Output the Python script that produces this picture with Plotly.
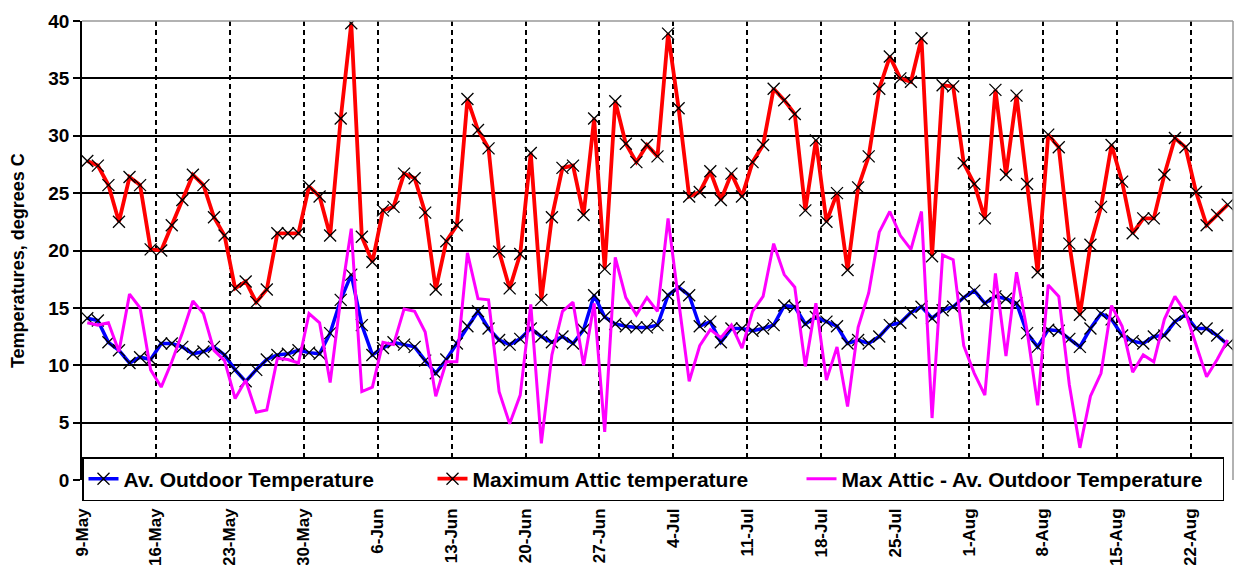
import pandas as pd
import plotly.graph_objects as go

# ---- data (daily values, 9-May .. 25-Aug) ----
start_date = "2006-05-09 12:00"
n_days = 109

max_attic = [27.8, 27.4, 25.7, 22.5, 26.4, 25.7, 20.1, 20.0, 22.2, 24.4,
             26.6, 25.7, 22.9, 21.3, 16.7, 17.3, 15.5, 16.6, 21.5, 21.5,
             21.5, 25.6, 24.7, 21.3, 31.5, 39.8, 21.2, 19.0, 23.5, 23.8,
             26.7, 26.3, 23.3, 16.6, 20.8, 22.2, 33.2, 30.5, 28.9, 19.9,
             16.7, 19.7, 28.5, 15.7, 22.9, 27.2, 27.4, 23.1, 31.5, 18.4,
             33.0, 29.3, 27.7, 29.2, 28.2, 38.9, 32.4, 24.7, 25.1, 26.9,
             24.4, 26.7, 24.7, 27.7, 29.2, 34.1, 33.1, 31.9, 23.5, 29.6,
             22.5, 25.0, 18.3, 25.5, 28.2, 34.1, 36.9, 35.0, 34.7, 38.5,
             19.5, 34.4, 34.3, 27.6, 25.8, 22.8, 34.0, 26.6, 33.5, 25.8,
             18.1, 30.1, 29.0, 20.6, 14.4, 20.5, 23.8, 29.2, 26.0, 21.5,
             22.8, 22.8, 26.6, 29.8, 29.0, 25.1, 22.2, 23.1, 24.0]

av_outdoor = [14.1, 13.9, 12.0, 11.3, 10.2, 10.7, 10.5, 11.9, 11.9, 11.6,
              11.0, 11.2, 11.6, 10.9, 9.6, 8.6, 9.6, 10.5, 10.9, 11.0,
              11.3, 11.1, 11.0, 12.8, 15.7, 17.9, 13.5, 10.9, 11.5, 12.0,
              11.8, 11.6, 10.4, 9.3, 10.5, 11.9, 13.4, 14.7, 13.2, 12.2,
              11.8, 12.3, 13.2, 12.5, 12.0, 12.5, 11.9, 13.1, 16.1, 14.2,
              13.6, 13.4, 13.3, 13.3, 13.5, 16.1, 16.8, 16.1, 13.4, 13.8,
              12.0, 13.2, 13.2, 13.0, 13.2, 13.5, 15.2, 15.1, 13.6, 14.2,
              13.8, 13.4, 11.9, 12.2, 11.9, 12.5, 13.5, 13.7, 14.6, 15.1,
              14.1, 14.8, 15.1, 15.9, 16.5, 15.4, 16.0, 15.8, 15.4, 12.8,
              11.6, 13.1, 13.0, 12.3, 11.6, 13.2, 14.5, 14.0, 12.6, 12.1,
              11.9, 12.5, 12.6, 13.8, 14.4, 13.2, 13.2, 12.6, 11.8]

attic_minus_outdoor = [13.7, 13.5, 13.7, 11.2, 16.2, 15.0, 9.6, 8.1, 10.3, 12.8,
                       15.6, 14.5, 11.3, 10.4, 7.1, 8.7, 5.9, 6.1, 10.6, 10.5,
                       10.2, 14.5, 13.7, 8.5, 15.8, 21.9, 7.7, 8.1, 12.0, 11.8,
                       14.9, 14.7, 12.9, 7.3, 10.3, 10.3, 19.8, 15.8, 15.7, 7.7,
                       4.9, 7.4, 15.3, 3.2, 10.9, 14.7, 15.5, 10.0, 15.4, 4.2,
                       19.4, 15.9, 14.4, 15.9, 14.7, 22.8, 15.6, 8.6, 11.7, 13.1,
                       12.4, 13.5, 11.5, 14.7, 16.0, 20.6, 17.9, 16.8, 9.9, 15.4,
                       8.7, 11.6, 6.4, 13.3, 16.3, 21.6, 23.4, 21.3, 20.1, 23.4,
                       5.4, 19.6, 19.2, 11.7, 9.3, 7.4, 18.0, 10.8, 18.1, 13.0,
                       6.5, 17.0, 16.0, 8.3, 2.8, 7.3, 9.3, 15.2, 13.4, 9.4,
                       10.9, 10.3, 14.0, 16.0, 14.6, 11.9, 9.0, 10.5, 12.2]

series_names = ["Av. Outdoor Temperature", "Maximum Attic temperature",
                "Max Attic - Av. Outdoor Temperature"]

dates = pd.date_range(start_date, periods=n_days, freq="D")

FONT = "Arial, 'Liberation Sans', sans-serif"

fig = go.Figure()
fig.add_trace(go.Scatter(
    x=dates, y=av_outdoor, name=series_names[0], mode="lines+markers",
    line=dict(color="#0000FF", width=3.5),
    marker=dict(symbol="x-thin", size=12, color="black",
                line=dict(color="black", width=1.3)),
    legendwidth=304,
))
fig.add_trace(go.Scatter(
    x=dates, y=max_attic, name=series_names[1], mode="lines+markers",
    line=dict(color="#FF0000", width=3.8),
    marker=dict(symbol="x-thin", size=12, color="black",
                line=dict(color="black", width=1.3)),
    legendwidth=324,
))
fig.add_trace(go.Scatter(
    x=dates, y=attic_minus_outdoor, name=series_names[2], mode="lines",
    line=dict(color="#FF00FF", width=3),
    legendwidth=376,
))

# the page body adds an 8px offset, so the figure is 8px smaller on each axis
fig.update_layout(
    width=1234, height=557,
    margin=dict(l=74, r=9, t=13, b=85, autoexpand=False),
    paper_bgcolor="white", plot_bgcolor="white",
    font=dict(family=FONT, color="black"),
    showlegend=True,
    legend=dict(
        orientation="h", x=0, xanchor="left", y=0.05, yanchor="top",
        bgcolor="white", bordercolor="black", borderwidth=1.5,
        font=dict(family=FONT, size=21, color="black", weight="bold"),
        itemclick=False, itemdoubleclick=False,
    ),
    xaxis=dict(
        type="date", automargin=False,
        range=["2006-05-09 00:00", "2006-08-26 00:00"],
        tick0="2006-05-09", dtick=7 * 86400000,
        tickformat="%-d-%b", tickangle=-90,
        tickfont=dict(family=FONT, size=17, color="black", weight="bold"),
        ticks="", ticklabelstandoff=24,
        showgrid=True, gridcolor="black", gridwidth=1.5, griddash="5px,4px",
        showline=False, zeroline=False,
    ),
    yaxis=dict(
        range=[0, 40], dtick=5, tick0=0, automargin=False,
        tickfont=dict(family=FONT, size=19, color="black", weight="bold"),
        ticks="outside", ticklen=7, tickwidth=1.5, tickcolor="black",
        showgrid=True, gridcolor="black", gridwidth=1.5,
        showline=True, linecolor="black", linewidth=1.5,
        zeroline=False,
    ),
    shapes=[
        dict(type="line", xref="paper", yref="paper", x0=0, x1=1, y0=1, y1=1,
             line=dict(color="#999999", width=1.5), layer="above"),
        dict(type="line", xref="paper", yref="paper", x0=1, x1=1, y0=0, y1=1,
             line=dict(color="#999999", width=1.5), layer="above"),
    ],
    annotations=[
        dict(text="Temperatures, degrees C", xref="paper", yref="paper",
             x=-0.0556, y=0.477, xanchor="center", yanchor="middle",
             textangle=-90, showarrow=False,
             font=dict(family=FONT, size=18, color="black", weight="bold")),
    ],
)

fig.write_html("out.html")
